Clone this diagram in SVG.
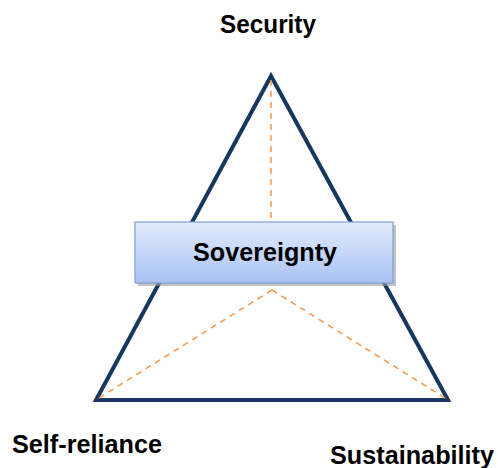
<svg xmlns="http://www.w3.org/2000/svg" width="498" height="468" viewBox="0 0 498 468">
<defs>
<linearGradient id="g" x1="0" y1="0" x2="0" y2="1">
<stop offset="0" stop-color="#e2ebfc"/>
<stop offset="1" stop-color="#a8c3f4"/>
</linearGradient>
<style>
.lbl{font-family:"Liberation Sans",Arial,sans-serif;font-weight:bold;font-size:25px;fill:#000;text-anchor:middle}
.dash{stroke:#f79646;stroke-width:1.5;stroke-dasharray:6,5;fill:none}
</style>
</defs>
<rect width="498" height="468" fill="#fff"/>
<g id="triangle">
<polygon points="271,76 96,400 448,400" fill="none" stroke="#17375e" stroke-width="4" stroke-linejoin="miter"/>
</g>
<g id="connectors">
<line class="dash" x1="271" y1="80" x2="271" y2="222"/>
<line class="dash" x1="272" y1="290" x2="99" y2="398"/>
<line class="dash" x1="272" y1="290" x2="445" y2="398"/>
</g>
<g id="sovereignty">
<rect x="138" y="225" width="258" height="61" fill="#9a9a9a" opacity="0.6"/>
<rect x="135" y="222" width="258" height="61" fill="url(#g)" stroke="#7f9fd3" stroke-width="1.2"/>
<text class="lbl" x="265" y="261" font-size="27" textLength="144" lengthAdjust="spacingAndGlyphs">Sovereignty</text>
</g>
<g id="security"><text class="lbl" x="268" y="33" textLength="96" lengthAdjust="spacingAndGlyphs">Security</text></g>
<g id="self-reliance"><text class="lbl" x="87" y="453" textLength="150" lengthAdjust="spacingAndGlyphs">Self-reliance</text></g>
<g id="sustainability"><text class="lbl" x="412" y="464" textLength="164" lengthAdjust="spacingAndGlyphs">Sustainability</text></g>
</svg>
